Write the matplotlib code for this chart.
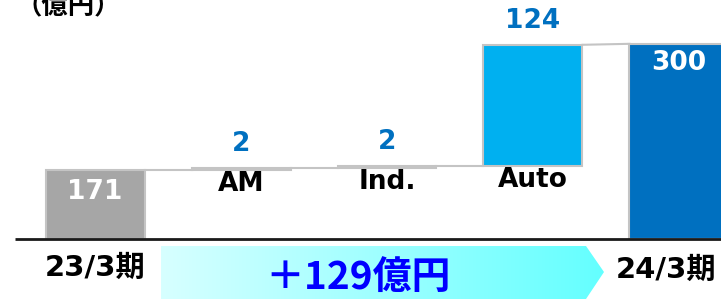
import matplotlib
matplotlib.use("Agg")
import matplotlib.pyplot as plt
import numpy as np
from matplotlib.patches import Polygon

categories = ["23/3期", "AM", "Ind.", "Auto", "24/3期"]
start_value = 171
deltas = [2, 2, 124]
end_value = 300
total_change_label = "＋129億円"
unit_label = "（億円）"

plt.rcParams['font.family'] = ['DejaVu Sans', 'Noto Sans CJK JP']

fig = plt.figure(figsize=(7.21, 2.99), dpi=100)
ax = fig.add_axes([0, 0, 1, 1])
ax.set_xlim(-0.651, 4.288)
base = 100
ax.set_ylim(38.5, 344.9)
ax.axis('off')

width = 0.678
edge = '#c4c4c4'
x = np.arange(len(categories))

# start bar
ax.bar(x[0], start_value - base, bottom=base, width=width, color='#a6a6a6',
       edgecolor=edge, linewidth=1.5, zorder=3)
# deltas
cum = start_value
delta_colors = ['#c4c4c4', '#c4c4c4', '#00b0f0']
for i, d in enumerate(deltas):
    ax.bar(x[i + 1], d, bottom=cum, width=width, color=delta_colors[i],
           edgecolor=edge, linewidth=1.5, zorder=3)
    ax.plot([x[i] + width / 2, x[i + 1] - width / 2], [cum, cum], color=edge, lw=1.5, zorder=2)
    cum += d
ax.plot([x[3] + width / 2, x[4] - width / 2], [cum, end_value], color=edge, lw=1.5, zorder=2)
ax.bar(x[4], end_value - base, bottom=base, width=width, color='#0070c0',
       edgecolor=edge, linewidth=1.5, zorder=3)

# baseline
ax.plot([-0.548, 4.288], [base, base], color='#1a1a1a', lw=2, zorder=4, solid_capstyle='butt')

fs = 19
# value labels
ax.annotate(str(start_value), (x[0], start_value), xytext=(0, -16), textcoords='offset points',
            ha='center', va='center', color='white', fontsize=fs, fontweight='bold', zorder=5)
ax.annotate(str(end_value), (x[4], end_value), xytext=(0, -14), textcoords='offset points',
            ha='center', va='center', color='white', fontsize=fs, fontweight='bold', zorder=5)
cum = start_value
for i, d in enumerate(deltas):
    top = cum + d
    ax.annotate(str(d), (x[i + 1], top), xytext=(0, 17), textcoords='offset points',
                ha='center', va='center', color='#0070c0', fontsize=fs, fontweight='bold', zorder=5)
    ax.annotate(categories[i + 1], (x[i + 1], cum), xytext=(0, -10.5), textcoords='offset points',
                ha='center', va='center', color='black', fontsize=fs, fontweight='bold', zorder=5)
    cum = top

# bottom category labels
ax.annotate(categories[0], (x[0], base), xytext=(0, -21), textcoords='offset points',
            ha='center', va='center', color='black', fontsize=21, fontweight='bold')
ax.annotate(categories[4], (x[4] - 0.09, base), xytext=(0, -22), textcoords='offset points',
            ha='center', va='center', color='black', fontsize=21, fontweight='bold')

# gradient arrow
def px2data(px, py):
    inv = ax.transData.inverted()
    return inv.transform((px, 299 - py))

fig.canvas.draw()
pts_px = [(161, 246), (586, 246), (604, 272), (586, 299), (161, 299)]
pts = [px2data(a, b) for a, b in pts_px]
poly = Polygon(pts, closed=True, facecolor='none', edgecolor='none', transform=ax.transData)
ax.add_patch(poly)
x0, y0 = pts[0][0], pts[3][1]
x1, y1 = pts[2][0], pts[0][1]
grad = np.linspace(0, 1, 256)[None, :]
c_left = np.array([215, 255, 255]) / 255
c_right = np.array([100, 255, 255]) / 255
img = c_left[None, None, :] * (1 - grad[..., None]) + c_right[None, None, :] * grad[..., None]
im = ax.imshow(img, extent=[x0, x1, y0 - 5, y1], aspect='auto', zorder=1)
im.set_clip_path(poly)
ax.set_xlim(-0.651, 4.288)
ax.set_ylim(38.5, 344.9)

ax.text(358 / 721, 1 - 277 / 299, total_change_label, transform=ax.transAxes,
        ha='center', va='center', color='#0000ff', fontsize=28, fontweight='bold',
        family=['Noto Sans CJK JP', 'DejaVu Sans'], zorder=5)

ax.text(68 / 721, 1 - 7 / 299, unit_label, transform=ax.transAxes,
        ha='center', va='center', color='black', fontsize=19, fontweight='bold',
        family=['Noto Sans CJK JP', 'DejaVu Sans'])

fig.savefig("out.png", dpi=100)
